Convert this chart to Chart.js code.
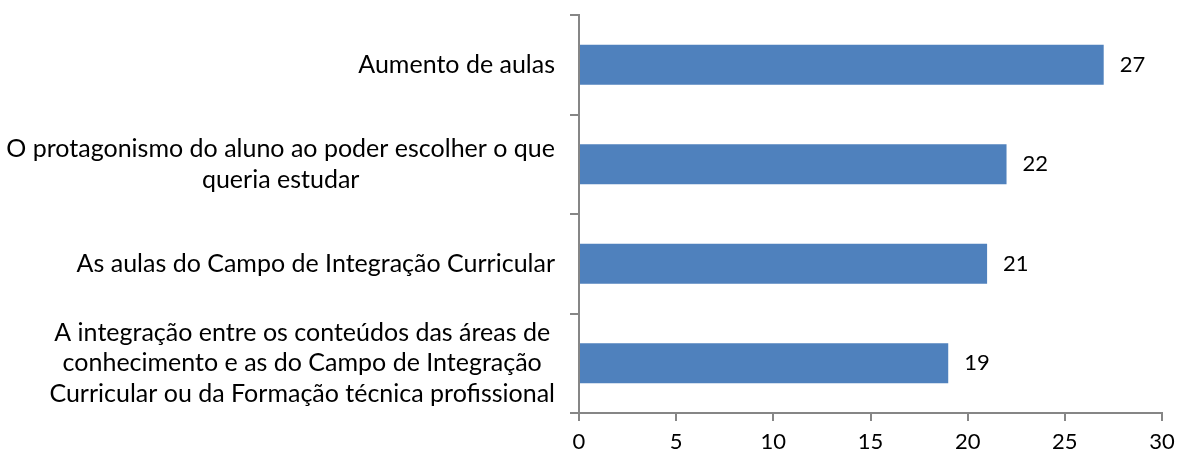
<!DOCTYPE html>
<html lang="pt">
<head>
<meta charset="UTF-8">
<title>Gráfico</title>
<script src="https://cdn.jsdelivr.net/npm/chart.js"></script>
<style>
  html, body { margin: 0; padding: 0; background: #fff; }
  #wrap { width: 1177px; height: 457px; }
</style>
</head>
<body>
<div id="wrap"><canvas id="grafico"></canvas></div>
<script>
// categorias (cada item = linhas do rótulo)
const categorias = [
  ["Aumento de aulas"],
  ["O protagonismo do aluno ao poder escolher o que", "queria estudar"],
  ["As aulas do Campo de Integração Curricular"],
  ["A integração entre os conteúdos das áreas de", "conhecimento e as do Campo de Integração", "Curricular ou da Formação técnica profissional"]
];
const valores = [27, 22, 21, 19];
const escalaMax = 30;
const passo = 5;

const fonte = "Lato, 'Open Sans', sans-serif";
const cinza = "#868686";

// rótulos das categorias, centrados linha a linha, alinhados à direita
const rotulosY = {
  id: "rotulosY",
  afterDraw(chart) {
    const ctx = chart.ctx;
    const y = chart.scales.y;
    ctx.save();
    ctx.font = "25px " + fonte;
    ctx.fillStyle = "#000";
    ctx.textBaseline = "middle";
    ctx.textAlign = "center";
    const lh = 30.5;
    categorias.forEach((linhas, i) => {
      const cy = y.getPixelForTick(i);
      const larg = Math.max(...linhas.map(l => ctx.measureText(l).width));
      const direita = y.right - 24;
      const cx = direita - larg / 2;
      const y0 = cy - (linhas.length - 1) * lh / 2;
      linhas.forEach((l, k) => ctx.fillText(l, cx, y0 + k * lh));
    });
    ctx.restore();
  }
};

// valores no fim das barras
const rotulosValor = {
  id: "rotulosValor",
  afterDatasetsDraw(chart) {
    const ctx = chart.ctx;
    const meta = chart.getDatasetMeta(0);
    ctx.save();
    ctx.font = "22px " + fonte;
    ctx.fillStyle = "#000";
    ctx.textBaseline = "middle";
    ctx.textAlign = "left";
    meta.data.forEach((bar, i) => {
      ctx.fillText(String(valores[i]), bar.x + 16, bar.y);
    });
    ctx.restore();
  }
};

new Chart(document.getElementById("grafico"), {
  type: "bar",
  data: {
    labels: categorias.map(l => l.join(" ")),
    datasets: [{
      data: valores,
      backgroundColor: "#4F81BD",
      borderWidth: 0,
      categoryPercentage: 1,
      barPercentage: 0.4
    }]
  },
  options: {
    indexAxis: "y",
    responsive: true,
    maintainAspectRatio: false,
    animation: false,
    layout: { padding: { top: 15, right: 15, bottom: 0, left: 0 } },
    plugins: { legend: { display: false }, tooltip: { enabled: false } },
    scales: {
      y: {
        afterFit(s) { s.width = 579; },
        grid: { display: true, drawOnChartArea: false, offset: true, tickLength: 9, color: cinza, lineWidth: 2 },
        border: { color: cinza, width: 2 },
        ticks: { display: false }
      },
      x: {
        min: 0,
        max: escalaMax,
        afterFit(s) { s.height = 44; s.paddingLeft = 0; s.paddingRight = 0; },
        grid: { display: true, drawOnChartArea: false, tickLength: 8, color: cinza, lineWidth: 2 },
        border: { color: cinza, width: 2 },
        ticks: { stepSize: passo, color: "#000", font: { size: 22, family: fonte }, padding: 8 }
      }
    }
  },
  plugins: [rotulosY, rotulosValor]
});
</script>
</body>
</html>
